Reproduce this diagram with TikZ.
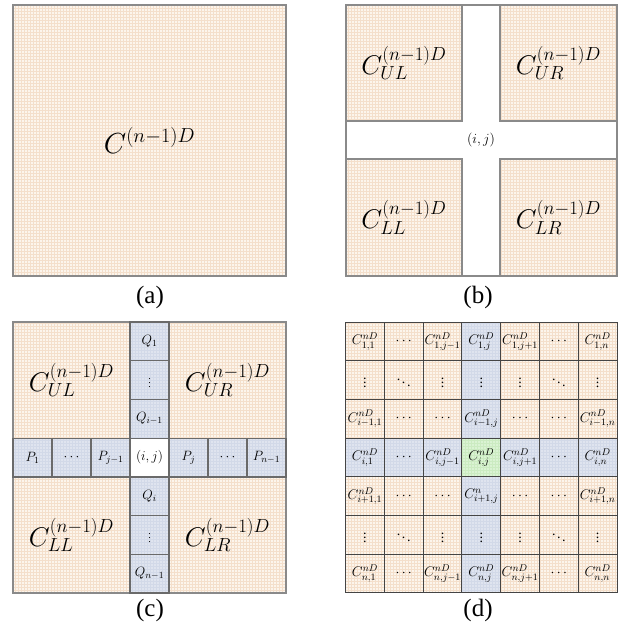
\RequirePackage{fix-cm}
\documentclass[tikz,border=0pt]{standalone}
\usepackage[no-math]{fontspec}
\setmainfont{Liberation Serif}
\usetikzlibrary{patterns,matrix}
\definecolor{creambg}{HTML}{FCF5EC}
\definecolor{creamln}{HTML}{F4DFCB}
\definecolor{bluebg}{HTML}{DFE4EF}
\definecolor{blueln}{HTML}{D2D9E8}
\definecolor{greenbg}{HTML}{DAF3D3}
\definecolor{greenln}{HTML}{CBEBC1}
\definecolor{edgegray}{HTML}{8A8A8A}
\definecolor{edgemid}{HTML}{6A6A6A}
\definecolor{edgedark}{HTML}{454545}
\tikzset{
  basecell/.style={rectangle, inner sep=0pt, outer sep=0pt, anchor=center},
  creamcell/.style={basecell, preaction={fill=creambg}, pattern=grid, pattern color=creamln},
  bluecell/.style={basecell, preaction={fill=bluebg}, pattern=grid, pattern color=blueln},
  greencell/.style={basecell, preaction={fill=greenbg}, pattern=grid, pattern color=greenln},
  whitecell/.style={basecell, fill=white},
  grayedge/.style={draw=edgegray, line width=1.3pt},
  midedge/.style={draw=edgemid, line width=1.3pt},
  darkedge/.style={draw=edgedark, line width=1pt},
  bigtext/.style={font=\fontsize{27}{32}\selectfont},
  hugetext/.style={font=\fontsize{29}{34}\selectfont},
  midtext/.style={font=\fontsize{13.5}{16}\selectfont},
  smalltext/.style={font=\fontsize{14}{16}\selectfont},
  caption/.style={font=\fontsize{25}{29}\selectfont, inner sep=0pt},
}
\begin{document}
\begin{tikzpicture}[x=1pt,y=-1pt]
\useasboundingbox[fill=white] (0,0) rectangle (621,629);

% ---------- (a)
\node[creamcell, hugetext, minimum width=273pt, minimum height=271pt] (a) at (149.5,140.5) {$C^{(n-1)D}$};
\draw[grayedge] (a.north west) rectangle (a.south east);
\node[caption] (capa) at (150,297) {(a)};

% ---------- (b)
\node[basecell, fill=white, minimum width=271pt, minimum height=271pt] (bframe) at (481.5,140.5) {};
\node[basecell, smalltext] (bij) at (481,140) {$(i,j)$};
\node[creamcell, bigtext, minimum width=116pt, minimum height=116pt] (bul) at (404,63) {$C_{UL}^{(n-1)D}$};
\node[creamcell, bigtext, minimum width=117pt, minimum height=116pt] (bur) at (558.5,63) {$C_{UR}^{(n-1)D}$};
\node[creamcell, bigtext, minimum width=116pt, minimum height=117pt] (bll) at (404,217.5) {$C_{LL}^{(n-1)D}$};
\node[creamcell, bigtext, minimum width=117pt, minimum height=117pt] (blr) at (558.5,217.5) {$C_{LR}^{(n-1)D}$};
\foreach \n in {bframe,bul,bur,bll,blr}
  \draw[grayedge] (\n.north west) rectangle (\n.south east);
\node[caption] (capb) at (478,297) {(b)};

% ---------- (c)
\node[creamcell, bigtext, minimum width=117pt, minimum height=116.1pt] (cul) at (71.5,380.1) {$C_{UL}^{(n-1)D}$};
\node[creamcell, bigtext, minimum width=117pt, minimum height=116.1pt] (cur) at (227.5,380.1) {$C_{UR}^{(n-1)D}$};
\node[creamcell, bigtext, minimum width=117pt, minimum height=116.1pt] (cll) at (71.5,534.9) {$C_{LL}^{(n-1)D}$};
\node[creamcell, bigtext, minimum width=117pt, minimum height=116.1pt] (clr) at (227.5,534.9) {$C_{LR}^{(n-1)D}$};
\tikzset{ccell/.style={minimum width=39pt, minimum height=38.7pt, midtext}}
\node[bluecell, ccell] (cq1) at (149.5,341.4) {$Q_1$};
\node[bluecell, ccell] (cq2) at (149.5,380.1) {\fontsize{10}{11}\selectfont$\vdots$};
\node[bluecell, ccell] (cq3) at (149.5,418.8) {$Q_{i-1}$};
\node[whitecell, ccell] (cij) at (149.5,457.5) {$(i,j)$};
\node[bluecell, ccell] (cq4) at (149.5,496.2) {$Q_i$};
\node[bluecell, ccell] (cq5) at (149.5,534.9) {\fontsize{10}{11}\selectfont$\vdots$};
\node[bluecell, ccell] (cq6) at (149.5,573.6) {$Q_{n-1}$};
\node[bluecell, ccell] (cp1) at (32.5,457.5) {$P_1$};
\node[bluecell, ccell] (cp2) at (71.5,457.5) {$\cdots$};
\node[bluecell, ccell] (cp3) at (110.5,457.5) {$P_{j-1}$};
\node[bluecell, ccell] (cp4) at (188.5,457.5) {$P_j$};
\node[bluecell, ccell] (cp5) at (227.5,457.5) {$\cdots$};
\node[bluecell, ccell] (cp6) at (266.5,457.5) {$P_{n-1}$};
\foreach \n in {cul,cur,cll,clr}
  \draw[grayedge] (\n.north west) rectangle (\n.south east);
\foreach \n in {cq1,cq2,cq3,cij,cq4,cq5,cq6,cp1,cp2,cp3,cp4,cp5,cp6}
  \draw[midedge] (\n.north west) rectangle (\n.south east);
\node[caption] (capc) at (150,610) {(c)};

% ---------- (d)
\matrix[matrix of math nodes, anchor=center, inner sep=0pt, outer sep=0pt,
  column sep=0pt, row sep=0pt,
  nodes={creamcell, minimum width=38.79pt, minimum height=38.71pt, font=\fontsize{14}{16}\selectfont}] (d) at (481.3,457.5) {
C^{nD}_{1,1} & \cdots & C^{nD}_{1,j-1} & |[bluecell]| C^{nD}_{1,j} & C^{nD}_{1,j+1} & \cdots & C^{nD}_{1,n} \\
\vdots & \ddots & \vdots & |[bluecell]| \vdots & \vdots & \ddots & \vdots \\
C^{nD}_{i-1,1} & \cdots & \cdots & |[bluecell]| C^{nD}_{i-1,j} & \cdots & \cdots & C^{nD}_{i-1,n} \\
|[bluecell]| C^{nD}_{i,1} & |[bluecell]| \cdots & |[bluecell]| C^{nD}_{i,j-1} & |[greencell]| C^{nD}_{i,j} & |[bluecell]| C^{nD}_{i,j+1} & |[bluecell]| \cdots & |[bluecell]| C^{nD}_{i,n} \\
C^{nD}_{i+1,1} & \cdots & \cdots & |[bluecell]| C^{n}_{i+1,j} & \cdots & \cdots & C^{nD}_{i+1,n} \\
\vdots & \ddots & \vdots & |[bluecell]| \vdots & \vdots & \ddots & \vdots \\
C^{nD}_{n,1} & \cdots & C^{nD}_{n,j-1} & |[bluecell]| C^{nD}_{n,j} & C^{nD}_{n,j+1} & \cdots & C^{nD}_{n,n} \\
};
\foreach \r in {1,...,7}
  \foreach \c in {1,...,7}
    \draw[darkedge] (d-\r-\c.north west) rectangle (d-\r-\c.south east);
\node[caption] (capd) at (478,610) {(d)};
\end{tikzpicture}
\end{document}
